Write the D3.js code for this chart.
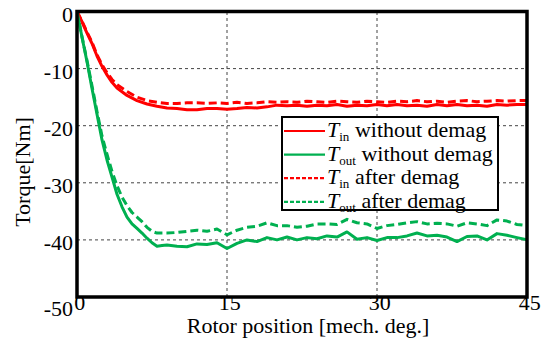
<!DOCTYPE html>
<html><head><meta charset="utf-8">
<script src="https://cdn.jsdelivr.net/npm/d3@7"></script>
<style>body{margin:0;background:#fff}svg{display:block}text{font-family:"Liberation Serif","DejaVu Serif","Times New Roman",serif}</style>
</head><body><svg id="c" width="541" height="340"></svg>
<script>
const xTicks=[0,15,30,45];
const yTicks=[0,-10,-20,-30,-40,-50];
const seriesNames=["without demag","without demag","after demag","after demag"];
const seriesSubs=["in","out","in","out"];
const tinWithoutX=[0,0.5,1,1.5,2,2.5,3,3.5,4,5,6,7,8,9,10,11,12,13,14,15,16,17,18,19,20,21,22,23,24,25,26,27,28,29,30,31,32,33,34,35,36,37,38,39,40,41,42,43,44,45];
const tinWithout=[0,-1.8,-3.8,-5.6,-7.8,-9.6,-11.1,-12.4,-13.4,-14.7,-15.6,-16.2,-16.6,-16.9,-17,-17.2,-17.2,-17,-17,-17.1,-17,-16.8,-16.9,-16.7,-16.4,-16.5,-16.4,-16.6,-16.4,-16.5,-16.3,-16.6,-16.4,-16.5,-16.3,-16.5,-16.3,-16.5,-16.4,-16.6,-16.3,-16.5,-16.3,-16.5,-16.4,-16.6,-16.3,-16.4,-16.3,-16.3];
const tinAfter=[0,-1.7,-3.6,-5.4,-7.6,-9.3,-10.7,-11.9,-12.8,-14.0,-15.0,-15.6,-15.9,-16.1,-16.1,-16.0,-16.0,-16.1,-16.0,-16.1,-15.9,-16.1,-16.0,-15.8,-15.9,-15.8,-15.9,-15.7,-15.8,-15.9,-15.7,-15.8,-15.9,-15.7,-15.8,-15.9,-15.7,-15.8,-15.6,-15.8,-15.7,-15.9,-15.7,-15.6,-15.8,-15.7,-15.6,-15.7,-15.6,-15.6];
const toutX=[0,0.5,1,1.5,2,2.5,3,3.5,4,4.5,5,5.5,6,6.5,7,7.5,8,8.5,9,10,11,12,13,14,15,16,17,18,19,20,21,22,23,24,25,26,27,28,29,30,31,32,33,34,35,36,37,38,39,40,41,42,43,44,45];
const toutWithout=[0,-4.5,-8.8,-13.5,-18,-22.5,-26,-29,-32,-34.2,-36,-37.2,-38,-38.8,-39.7,-40.5,-41.1,-41,-40.9,-41.1,-41.2,-40.7,-40.8,-40.5,-41.5,-40.6,-40,-40.3,-39.6,-40,-39.5,-40,-39.6,-39.8,-39.3,-39.5,-38.6,-39.9,-39.6,-40.1,-39.6,-39.6,-39.3,-38.8,-39.3,-39.2,-39.5,-40.3,-39.4,-39.3,-40,-38.9,-39.2,-39.6,-40];
const toutAfter=[0,-4.4,-8.6,-13,-17.5,-21.8,-25,-28,-30.5,-32.5,-34,-35.2,-36,-36.8,-37.8,-38.5,-38.8,-38.8,-38.8,-38.7,-38.5,-38.3,-38.5,-38.1,-39.1,-38.3,-37.8,-37.6,-37,-37.5,-37.5,-37.8,-37.6,-37.2,-37.2,-37.3,-36.4,-37,-37.2,-38,-37.5,-37.3,-37,-36.8,-37.2,-37.1,-37.2,-37.6,-37,-37.2,-37.5,-36.5,-36.7,-37.3,-37.5];

const RED="#ff0000", GREEN="#00b050";
const FONT='"Liberation Serif","DejaVu Serif","Times New Roman",serif';
const FS=22;
const svg=d3.select("#c");
const x=d3.scaleLinear().domain([0,45]).range([77,527]);
const y=d3.scaleLinear().domain([-50,0]).range([297,11.5]);

// grid
const g=svg.append("g");
g.selectAll(".gx").data(xTicks.slice(1,-1)).enter().append("line")
 .attr("x1",d=>x(d)).attr("x2",d=>x(d)).attr("y1",y(-50)).attr("y2",y(0))
 .attr("stroke","#444").attr("stroke-width",1).attr("stroke-dasharray","3,3");
g.selectAll(".gy").data(yTicks.slice(1,-1)).enter().append("line")
 .attr("y1",d=>y(d)).attr("y2",d=>y(d)).attr("x1",x(0)).attr("x2",x(45))
 .attr("stroke","#444").attr("stroke-width",1).attr("stroke-dasharray","3,3");

// axes via d3 axis for labels
const yAxis=svg.append("g").attr("transform",`translate(${x(0)},0)`)
 .call(d3.axisLeft(y).tickValues(yTicks).tickSize(0).tickPadding(4).tickFormat(d=>String(d)));
yAxis.attr("font-family",FONT).attr("font-size",FS);
yAxis.select(".domain").remove();
yAxis.selectAll("text").attr("fill","#000").attr("dy",d=>d===-50?"0.85em":"0.45em");
const xAxis=svg.append("g").attr("transform",`translate(0,${y(-50)})`)
 .call(d3.axisBottom(x).tickValues(xTicks).tickSize(0).tickPadding(2).tickFormat(d=>String(d)));
xAxis.attr("font-family",FONT).attr("font-size",FS);
xAxis.select(".domain").remove();
xAxis.selectAll("text").attr("fill","#000").attr("dx","0.1em").attr("dy","0.5em");

// curves
const line=(xs)=>d3.line().x((d,i)=>x(xs[i])).y(d=>y(d));
const curves=[
 {xs:tinWithoutX,v:tinWithout,c:RED,dash:null},
 {xs:toutX,v:toutWithout,c:GREEN,dash:null},
 {xs:tinWithoutX,v:tinAfter,c:RED,dash:"8,4"},
 {xs:toutX,v:toutAfter,c:GREEN,dash:"8,4"}
];
svg.append("clipPath").attr("id","cp").append("rect")
 .attr("x",x(0)).attr("y",y(0)).attr("width",x(45)-x(0)).attr("height",y(-50)-y(0));
[2,3,0,1].forEach(k=>{const s=curves[k];
 svg.append("path").datum(s.v).attr("d",line(s.xs)).attr("fill","none")
  .attr("stroke",s.c).attr("stroke-width",3).attr("stroke-linejoin","round")
  .attr("stroke-dasharray",s.dash).attr("clip-path","url(#cp)");
});

// frame
svg.append("rect").attr("x",x(0)).attr("y",y(0)).attr("width",x(45)-x(0)).attr("height",y(-50)-y(0))
 .attr("fill","none").attr("stroke","#000").attr("stroke-width",3.5);

// legend
const lg=svg.append("g").attr("font-family",FONT);
lg.append("rect").attr("x",282).attr("y",117).attr("width",216).attr("height",93)
 .attr("fill","#fff").attr("stroke","#000").attr("stroke-width",2);
const lcol=[RED,GREEN,RED,GREEN], ldash=[null,null,"4,2","4,2"];
seriesNames.forEach((nm,i)=>{
 const by=137+i*23.6;
 lg.append("line").attr("x1",284).attr("x2",325).attr("y1",by-6).attr("y2",by-6)
  .attr("stroke",lcol[i]).attr("stroke-width",2.2).attr("stroke-dasharray",ldash[i]);
 const t=lg.append("text").attr("x",327).attr("y",by).attr("font-size",FS).attr("fill","#000");
 t.append("tspan").attr("font-style","italic").text("T");
 t.append("tspan").attr("font-size",13).attr("dy",4).text(seriesSubs[i]);
 t.append("tspan").attr("dy",-4).text(" "+nm);
});

// titles
svg.append("text").attr("x",308).attr("y",333).attr("text-anchor","middle").attr("font-size",FS)
 .attr("font-family",FONT).text("Rotor position [mech. deg.]");
svg.append("text").attr("transform","translate(30,172) rotate(-90)").attr("text-anchor","middle")
 .attr("font-family",FONT).attr("font-size",FS).text("Torque[Nm]");
</script></body></html>
